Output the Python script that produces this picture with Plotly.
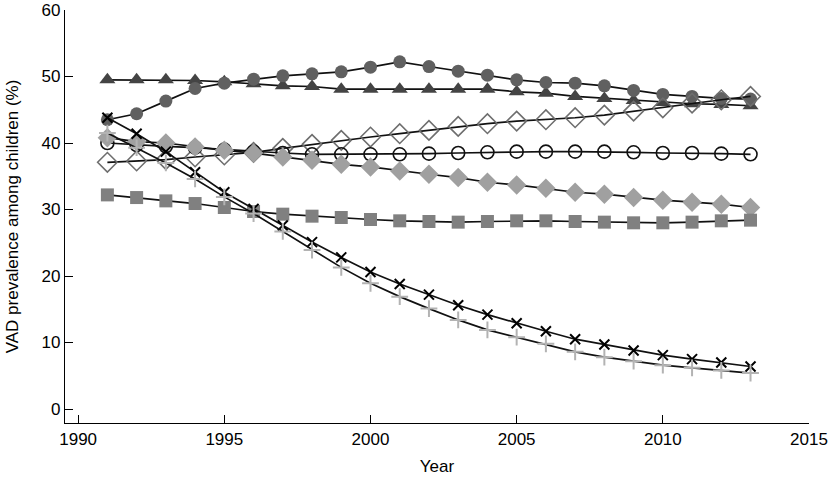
import plotly.graph_objects as go

years = list(range(1991, 2014))

tri_dark = [49.5, 49.5, 49.5, 49.4, 49.2, 48.9, 48.6, 48.5, 48.1, 48.1, 48.1, 48.1, 48.1, 48.1, 47.7, 47.5,
            47.0, 46.7, 46.4, 46.1, 45.9, 45.8, 45.6]
circ_filled = [43.5, 44.4, 46.3, 48.2, 49.0, 49.6, 50.1, 50.4, 50.7, 51.4, 52.2, 51.5, 50.8, 50.2, 49.5, 49.1,
               49.0, 48.6, 47.9, 47.3, 47.0, 46.7, 46.6]
diam_open = [37.1, 37.3, 37.5, 37.9, 38.2, 38.6, 39.2, 39.8, 40.4, 40.9, 41.4, 41.9, 42.5, 42.9, 43.3, 43.5,
             43.8, 44.2, 44.8, 45.3, 46.0, 46.5, 47.0]
circ_open = [40.0, 39.7, 39.5, 39.3, 39.0, 38.7, 38.5, 38.3, 38.3, 38.3, 38.3, 38.4, 38.5, 38.6, 38.7, 38.7,
             38.7, 38.7, 38.6, 38.5, 38.5, 38.4, 38.3]
diam_light = [40.8, 40.2, 40.0, 39.4, 38.9, 38.5, 37.9, 37.4, 36.8, 36.4, 35.8, 35.3, 34.8, 34.1, 33.7, 33.2,
              32.6, 32.3, 31.8, 31.4, 31.1, 30.8, 30.3]
square_gray = [32.2, 31.8, 31.3, 30.9, 30.3, 29.7, 29.3, 29.0, 28.8, 28.5, 28.3, 28.2, 28.1, 28.2, 28.3, 28.3,
               28.2, 28.1, 28.0, 28.0, 28.1, 28.3, 28.4]
x_black = [43.8, 41.4, 38.7, 35.6, 32.6, 30.1, 27.6, 25.1, 22.8, 20.6, 18.8, 17.2, 15.6, 14.2, 12.9, 11.7,
           10.5, 9.7, 8.8, 8.1, 7.5, 7.0, 6.4]
plus_light = [41.5, 39.3, 37.0, 34.6, 31.9, 29.4, 26.7, 23.9, 21.3, 18.9, 16.9, 15.1, 13.4, 11.9, 10.8, 9.8,
              8.6, 7.8, 7.2, 6.6, 6.2, 5.8, 5.4]

x_ticks = [1990, 1995, 2000, 2005, 2010, 2015]
y_ticks = [0, 10, 20, 30, 40, 50, 60]

series = [
    (tri_dark, dict(symbol="triangle-up", size=14, color="#444444")),
    (circ_filled, dict(symbol="circle", size=13, color="#606060")),
    (diam_open, dict(symbol="diamond-open", size=15, color="#6e6e6e", line=dict(width=1.6, color="#6e6e6e"))),
    (circ_open, dict(symbol="circle-open", size=13, color="#111111", line=dict(width=1.6, color="#111111"))),
    (diam_light, dict(symbol="diamond", size=15, color="#a0a0a0")),
    (square_gray, dict(symbol="square", size=13, color="#808080")),
    (x_black, dict(symbol="x-thin", size=10, color="#000000", line=dict(width=2, color="#000000"))),
    (plus_light, dict(symbol="cross-thin", size=12, color="#b3b3b3", line=dict(width=2, color="#b3b3b3"))),
]

fig = go.Figure()
for vals, mk in series:
    fig.add_trace(go.Scatter(x=years, y=vals, mode="lines+markers",
                             line=dict(color="#111111", width=1.7),
                             marker=mk, showlegend=False, cliponaxis=False))

axis_common = dict(showline=True, linecolor="black", linewidth=1.3, ticks="inside", ticklen=8,
                   tickwidth=1.3, tickcolor="black", showgrid=False, zeroline=False,
                   tickfont=dict(family="Liberation Sans, Arial, sans-serif", size=17, color="black"),
                   mirror=False, automargin=False)

fig.update_layout(
    width=830, height=478,
    margin=dict(l=65, r=21, t=10, b=55),
    paper_bgcolor="white", plot_bgcolor="white",
    font=dict(family="Liberation Sans, Arial, sans-serif", size=17, color="black"),
    xaxis=dict(range=[1989.55, 2015], tickvals=x_ticks,
               title=dict(text="Year", font=dict(size=17), standoff=12), **axis_common),
    yaxis=dict(range=[-2.1, 60], tickvals=y_ticks,
               title=dict(text="VAD prevalence among children (%)", font=dict(size=17), standoff=18),
               **axis_common),
)

fig.write_html("out.html", config={"displayModeBar": False},
               post_script="document.body.style.margin='0px';document.body.style.overflow='hidden';")
